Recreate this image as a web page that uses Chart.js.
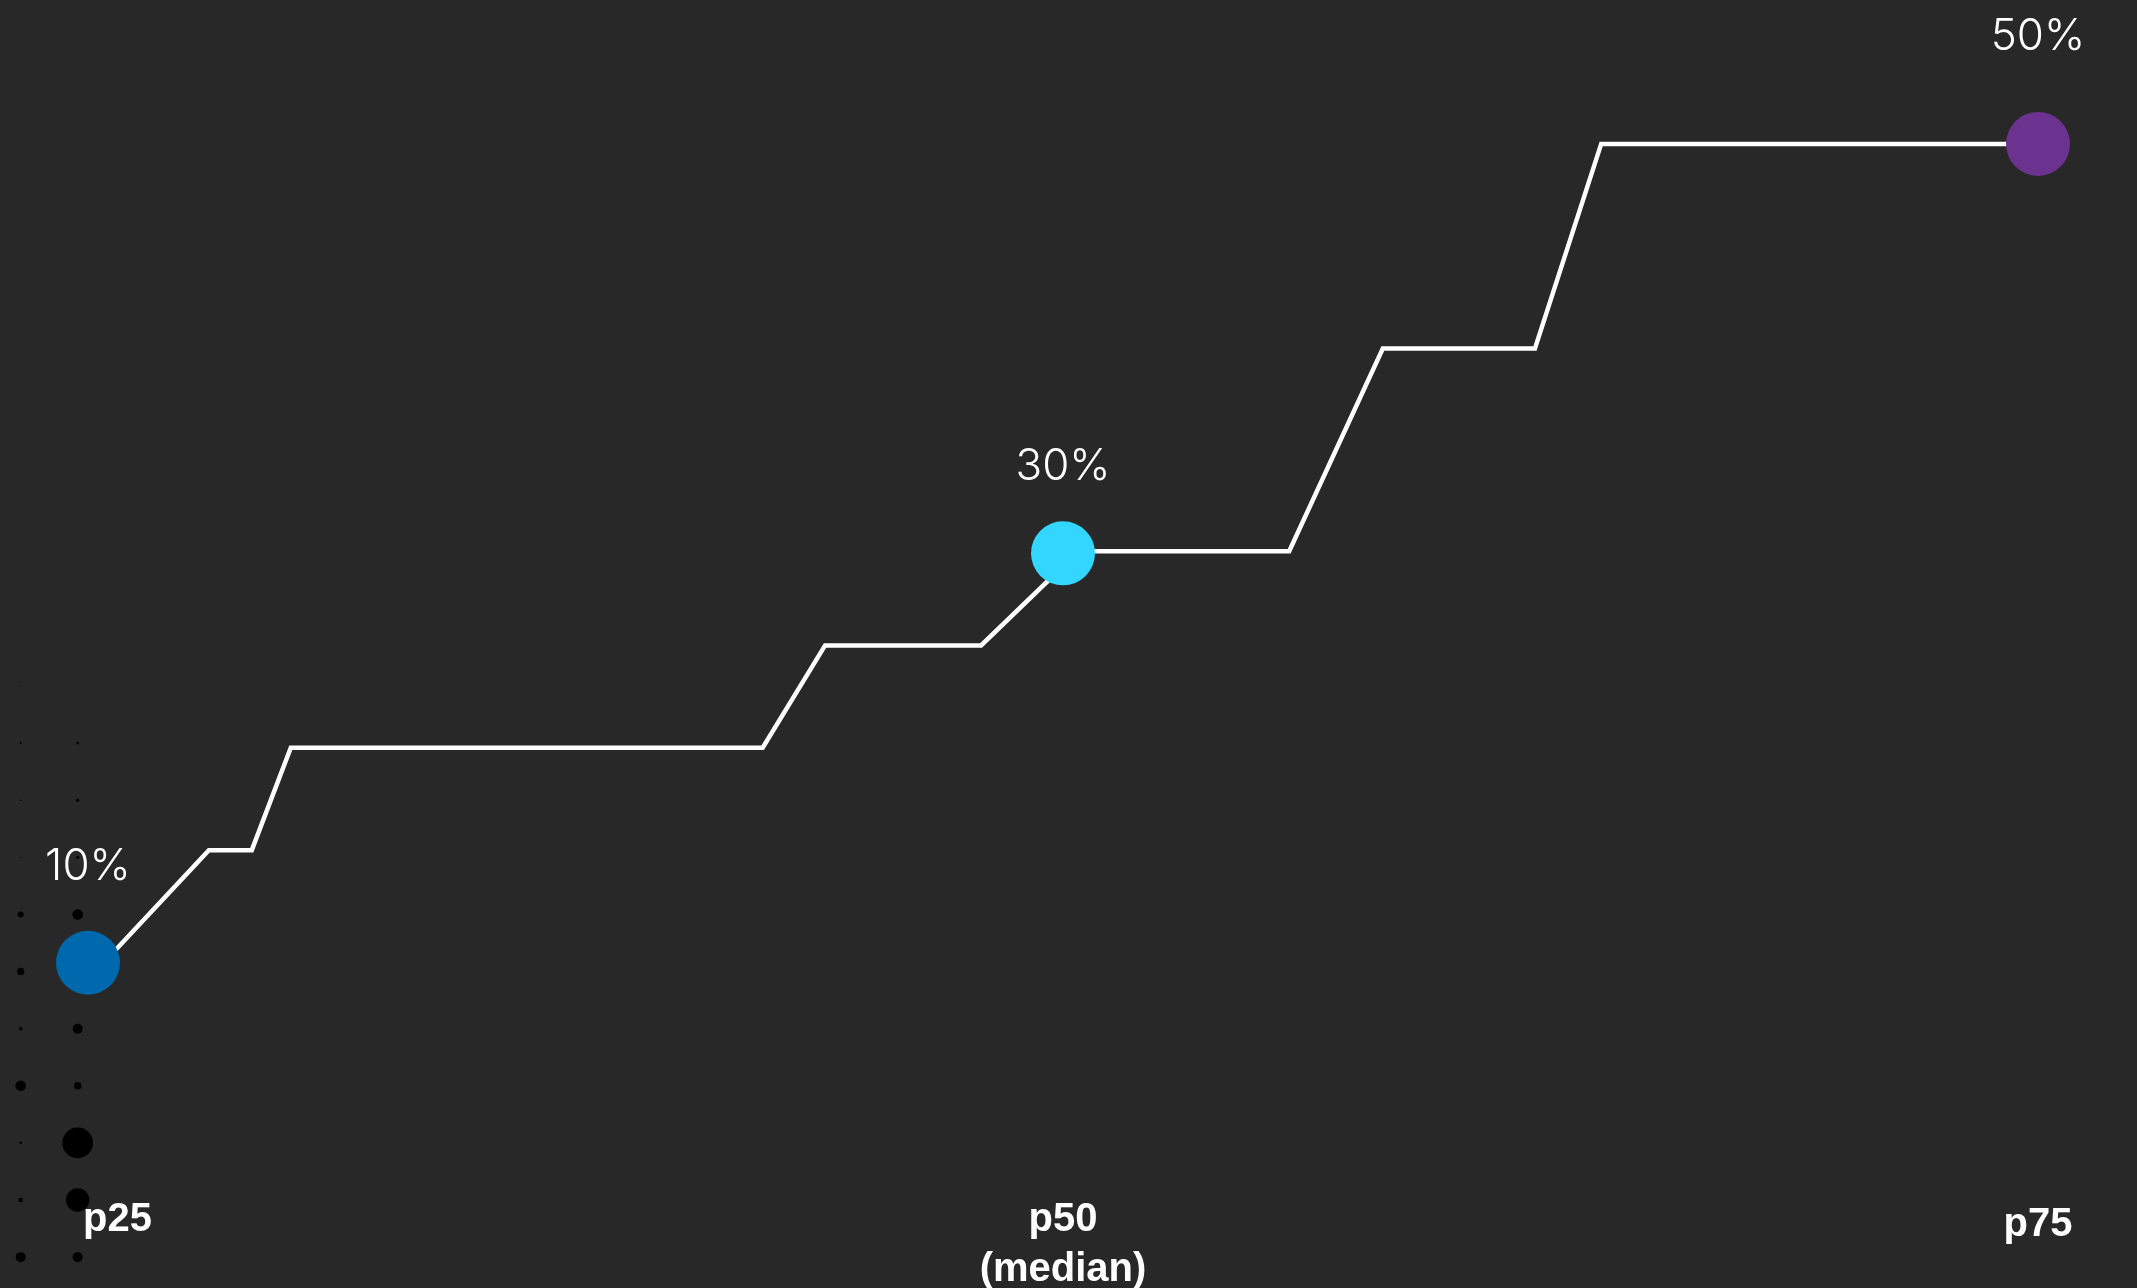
<!DOCTYPE html>
<html>
<head>
<meta charset="utf-8">
<script src="https://cdn.jsdelivr.net/npm/chart.js@4"></script>
<style>
  html, body { margin: 0; padding: 0; background: #282828; }
  #wrap { width: 2137px; height: 1288px; position: relative; }
</style>
</head>
<body>
<div id="wrap"><canvas id="myChart"></canvas></div>
<script>
// percentile markers
const percentiles = [25, 50, 75];
const shareValues = [10, 30, 50];
const valueLabels = ['10%', '30%', '50%'];
const tickLabels = [['p25'], ['p50', '(median)'], ['p75']];
const pointColors = ['#0068ad', '#33d6ff', '#6b3290'];

// white step line (percentile, share)
const stepX = [25.4, 28.1, 29.2, 30.2, 42.3, 43.9, 47.9, 50.4, 55.8, 58.2, 62.1, 63.8, 75];
const stepY = [10, 15.5, 15.5, 20.5, 20.5, 25.5, 25.5, 30.1, 30.1, 40, 40, 50, 50];

// black dot grid in the lower left corner (radius per row)
const gridRows = [0, 1, 2, 3, 4, 5, 6, 7, 8, 9, 10];
const dotsCol0 = [0.5, 1, 0.8, 0.7, 3, 3.7, 1.7, 5.3, 1.3, 2.3, 5];
const dotsCol1 = [0, 1.3, 1.7, 1.7, 5.3, 4, 5, 3.7, 15.3, 11.7, 5];

const gridData = [];
gridRows.forEach((row, i) => {
    gridData.push({ x: 0, y: row, r: dotsCol0[i] });
    gridData.push({ x: 1, y: row, r: dotsCol1[i] });
});

// labels above the points and the percentile names under them
const labelPlugin = {
    id: 'labelPlugin',
    afterDatasetsDraw(chart) {
        const ctx = chart.ctx;
        const xs = chart.scales.x;
        const ys = chart.scales.y;
        const offsets = [96, 87, 107];  // text centre above the point
        const drop = [0, 0, 5];         // p75 sits a little lower
        ctx.save();
        ctx.fillStyle = '#ffffff';
        ctx.textBaseline = 'middle';
        ctx.textAlign = 'center';
        ctx.font = '300 44px Inter';
        percentiles.forEach((p, i) => {
            ctx.fillText(valueLabels[i], xs.getPixelForValue(p), ys.getPixelForValue(shareValues[i]) - offsets[i]);
        });

        ctx.font = '700 40px "Liberation Sans"';
        ctx.textBaseline = 'alphabetic';
        const base = chart.chartArea.bottom - 57;
        percentiles.forEach((p, i) => {
            let x = xs.getPixelForValue(p);
            ctx.textAlign = 'center';
            if (i === 0) {
                ctx.textAlign = 'left';
                x -= 5;
            }
            tickLabels[i].forEach((line, j) => {
                ctx.fillText(line, x, base + drop[i] + j * 50);
            });
        });
        ctx.restore();
    }
};

const config = {
    type: 'line',
    data: {
        datasets: [
            {
                type: 'scatter',
                data: percentiles.map((p, i) => ({ x: p, y: shareValues[i] })),
                pointRadius: 32,
                pointHoverRadius: 32,
                pointBackgroundColor: pointColors,
                pointBorderWidth: 0,
                order: 0
            },
            {
                type: 'line',
                data: stepX.map((x, i) => ({ x: x, y: stepY[i] })),
                borderColor: '#ffffff',
                borderWidth: 4.5,
                borderJoinStyle: 'miter',
                pointRadius: 0,
                tension: 0,
                order: 1
            },
            {
                type: 'bubble',
                data: gridData,
                xAxisID: 'gx',
                yAxisID: 'gy',
                backgroundColor: '#000000',
                borderWidth: 0,
                order: 2
            }
        ]
    },
    options: {
        responsive: true,
        maintainAspectRatio: false,
        animation: false,
        layout: { padding: 0, autoPadding: false },
        plugins: {
            legend: { display: false },
            tooltip: { enabled: false }
        },
        scales: {
            x: { type: 'linear', display: false, min: 22.744, max: 77.538 },
            y: { type: 'linear', display: false, min: -5.89, max: 57.03 },
            gx: { type: 'linear', display: false, min: -0.363, max: 37.13 },
            gy: { type: 'linear', display: false, reverse: true, min: -12.01, max: 10.54 }
        }
    },
    plugins: [labelPlugin]
};

new Chart(document.querySelector('#myChart').getContext('2d'), config);
</script>
</body>
</html>
